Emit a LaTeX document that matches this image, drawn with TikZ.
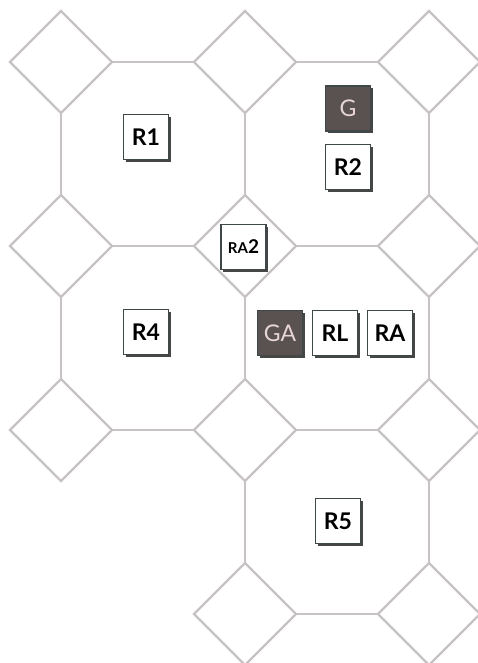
\documentclass[tikz,border=0pt]{standalone}
\usepackage{fontspec}
\setmainfont{Lato}
\usetikzlibrary{shadows}
\definecolor{tile}{RGB}{200,195,195}
\definecolor{boxline}{RGB}{62,72,72}
\definecolor{darkbox}{RGB}{90,81,81}
\definecolor{lighttext}{RGB}{232,214,214}
\begin{document}
\begin{tikzpicture}[x=1pt,y=-1pt,
  tileline/.style={draw=tile,line width=2.4pt,line join=miter},
  box/.style={draw=boxline,line width=1.3pt,fill=white,minimum size=45pt,inner sep=0pt,
    font=\fontsize{23}{26}\selectfont\bfseries,text=black,
    drop shadow={shadow xshift=2.2pt,shadow yshift=-2.4pt,fill=black!85,opacity=0.85}},
  darkbox/.style={box,fill=darkbox,text=lighttext,font=\fontsize{23}{26}\selectfont}]
\useasboundingbox (0,0) rectangle (477,663);
% diamonds
\foreach \x/\y in {61/62,245/62,429/62,61/246,245/246,429/246,61/430,245/430,429/430,245/614,429/614}{
  \draw[tileline] (\x,\y-51) -- (\x+51,\y) -- (\x,\y+51) -- (\x-51,\y) -- cycle;
}
% horizontal edges
\foreach \x/\y in {61/62,245/62,61/246,245/246,61/430,245/430,245/614}{
  \draw[tileline] (\x+51,\y) -- (\x+133,\y);
}
% vertical edges
\foreach \x/\y in {61/62,61/246,245/62,245/246,245/430,429/62,429/246,429/430}{
  \draw[tileline] (\x,\y+51) -- (\x,\y+133);
}
% boxes
\node[box] (r1) at (146,137) {R1};
\node[darkbox] (g) at (348,108.5) {G};
\node[box] (r2) at (348,167) {R2};
\node[box] (ra2) at (243.5,247) {{\fontsize{15}{18}\selectfont RA}{\fontsize{19}{22}\selectfont 2}};
\node[box] (r4) at (146,332) {R4};
\node[darkbox] (ga) at (280,333) {GA};
\node[box] (rl) at (335,333) {RL};
\node[box] (ra) at (390,333) {RA};
\node[box] (r5) at (338,521) {R5};
\end{tikzpicture}
\end{document}
